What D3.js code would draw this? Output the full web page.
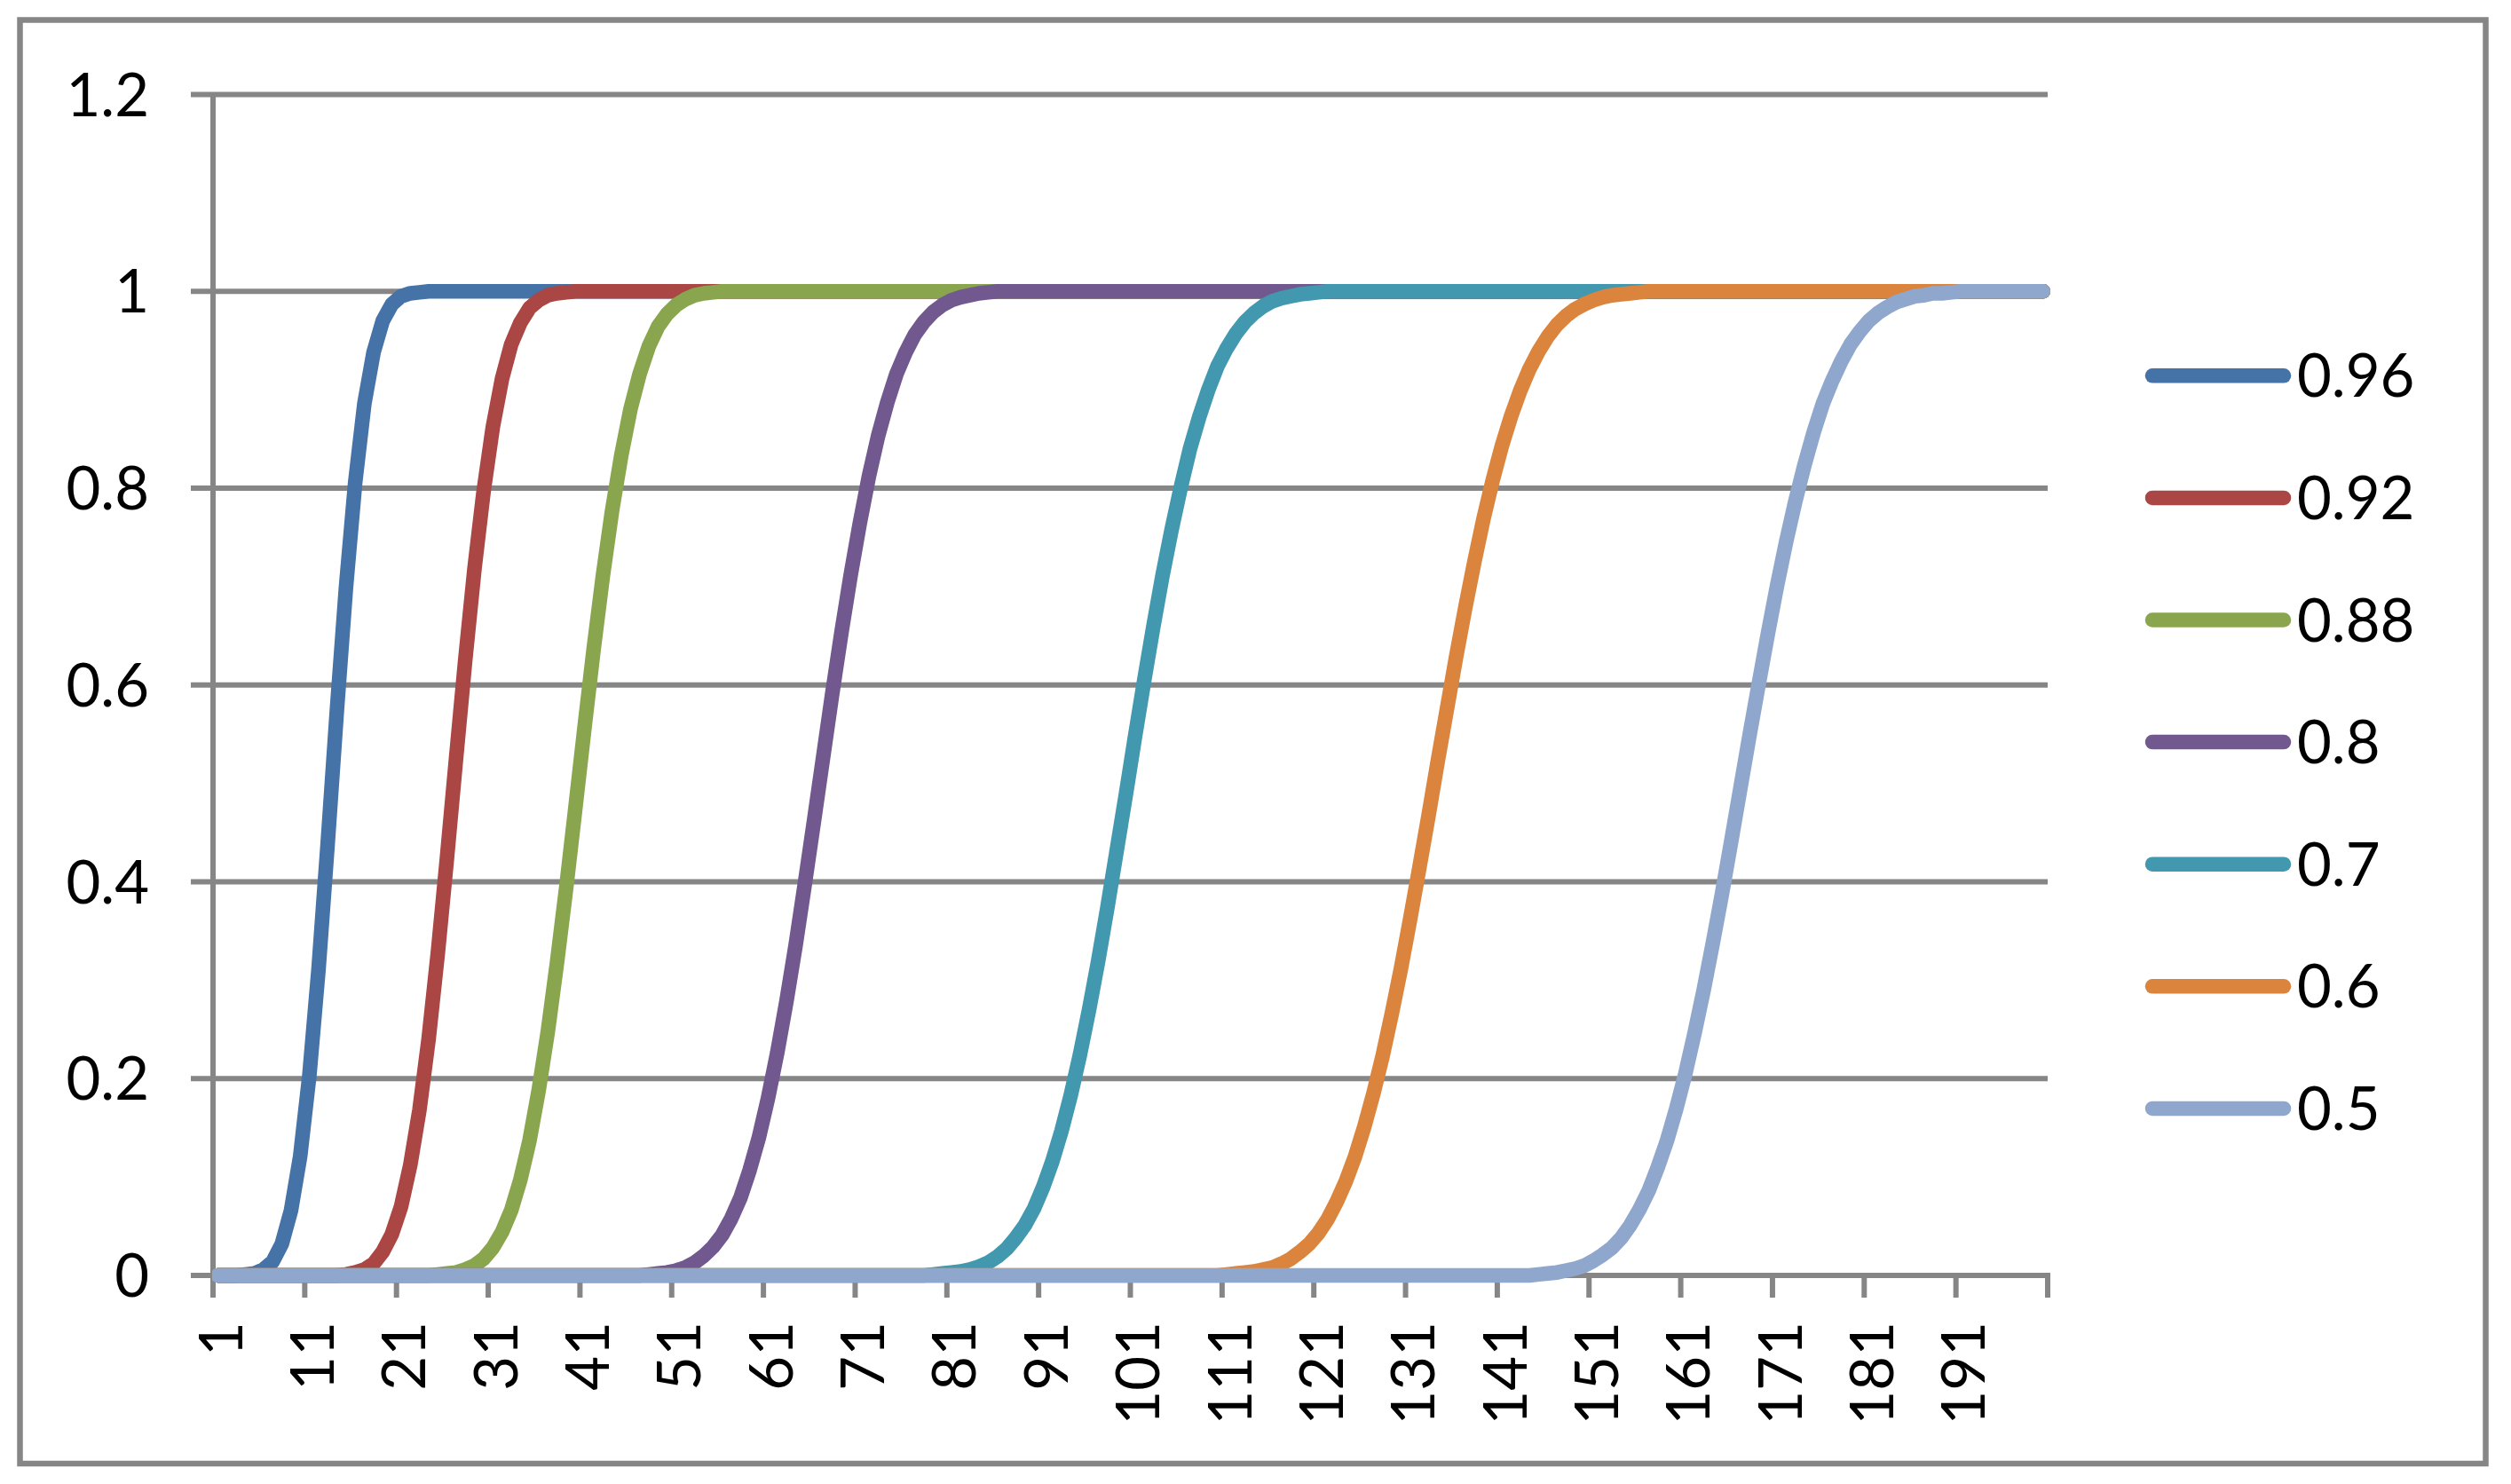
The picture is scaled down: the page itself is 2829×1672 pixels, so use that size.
<!DOCTYPE html>
<html>
<head>
<meta charset="utf-8">
<script src="https://cdn.jsdelivr.net/npm/d3@7/dist/d3.min.js"></script>
<style>
  html, body { margin: 0; padding: 0; background: #ffffff; }
  svg { display: block; }
  text { font-family: Lato, "Open Sans", "Liberation Sans", sans-serif; fill: #000; }
</style>
</head>
<body>
<svg id="chart" width="2829" height="1672"></svg>
<script>
// ---------------- DATA ----------------
const categories = d3.range(1, 201);
const seriesNames = ["0.96", "0.92", "0.88", "0.8", "0.7", "0.6", "0.5"];
const seriesColors = ["#4572A7", "#AA4643", "#89A54E", "#71588F", "#4198AF", "#DB843D", "#8FA7CC"];
const yTicks = [0, 0.2, 0.4, 0.6, 0.8, 1, 1.2];
const yTickLabels = ["0", "0.2", "0.4", "0.6", "0.8", "1", "1.2"];
const xTickCategories = [1, 11, 21, 31, 41, 51, 61, 71, 81, 91, 101, 111, 121, 131, 141, 151, 161, 171, 181, 191];
const xTickLabels = ["1", "11", "21", "31", "41", "51", "61", "71", "81", "91", "101", "111", "121", "131", "141", "151", "161", "171", "181", "191"];

const s096 = [
0,0,0,0.001,0.002,0.006,0.014,0.032,0.066,0.121,
0.203,0.311,0.439,0.574,0.700,0.806,0.886,0.938,0.970,0.987,
0.995,0.998,0.999,1,1,1,1,1,1,1,
1,1,1,1,1,1,1,1,1,1,
1,1,1,1,1,1,1,1,1,1,
1,1,1,1,1,1,1,1,1,1,
1,1,1,1,1,1,1,1,1,1,
1,1,1,1,1,1,1,1,1,1,
1,1,1,1,1,1,1,1,1,1,
1,1,1,1,1,1,1,1,1,1,
1,1,1,1,1,1,1,1,1,1,
1,1,1,1,1,1,1,1,1,1,
1,1,1,1,1,1,1,1,1,1,
1,1,1,1,1,1,1,1,1,1,
1,1,1,1,1,1,1,1,1,1,
1,1,1,1,1,1,1,1,1,1,
1,1,1,1,1,1,1,1,1,1,
1,1,1,1,1,1,1,1,1,1,
1,1,1,1,1,1,1,1,1,1,
1,1,1,1,1,1,1,1,1,1
];
const s092 = [
0,0,0,0,0,0,0,0,0,0,
0,0,0,0,0.001,0.003,0.006,0.012,0.024,0.042,
0.070,0.112,0.168,0.240,0.327,0.424,0.526,0.626,0.718,0.797,
0.862,0.911,0.946,0.968,0.983,0.991,0.996,0.998,0.999,1,
1,1,1,1,1,1,1,1,1,1,
1,1,1,1,1,1,1,1,1,1,
1,1,1,1,1,1,1,1,1,1,
1,1,1,1,1,1,1,1,1,1,
1,1,1,1,1,1,1,1,1,1,
1,1,1,1,1,1,1,1,1,1,
1,1,1,1,1,1,1,1,1,1,
1,1,1,1,1,1,1,1,1,1,
1,1,1,1,1,1,1,1,1,1,
1,1,1,1,1,1,1,1,1,1,
1,1,1,1,1,1,1,1,1,1,
1,1,1,1,1,1,1,1,1,1,
1,1,1,1,1,1,1,1,1,1,
1,1,1,1,1,1,1,1,1,1,
1,1,1,1,1,1,1,1,1,1,
1,1,1,1,1,1,1,1,1,1
];
const s088 = [
0,0,0,0,0,0,0,0,0,0,
0,0,0,0,0,0,0,0,0,0,
0,0,0,0,0.001,0.002,0.003,0.006,0.010,0.017,
0.028,0.044,0.066,0.097,0.137,0.188,0.248,0.318,0.394,0.475,
0.557,0.637,0.711,0.777,0.833,0.880,0.916,0.944,0.964,0.977,
0.986,0.992,0.996,0.998,0.999,1,1,1,1,1,
1,1,1,1,1,1,1,1,1,1,
1,1,1,1,1,1,1,1,1,1,
1,1,1,1,1,1,1,1,1,1,
1,1,1,1,1,1,1,1,1,1,
1,1,1,1,1,1,1,1,1,1,
1,1,1,1,1,1,1,1,1,1,
1,1,1,1,1,1,1,1,1,1,
1,1,1,1,1,1,1,1,1,1,
1,1,1,1,1,1,1,1,1,1,
1,1,1,1,1,1,1,1,1,1,
1,1,1,1,1,1,1,1,1,1,
1,1,1,1,1,1,1,1,1,1,
1,1,1,1,1,1,1,1,1,1,
1,1,1,1,1,1,1,1,1,1
];
const s080 = [
0,0,0,0,0,0,0,0,0,0,
0,0,0,0,0,0,0,0,0,0,
0,0,0,0,0,0,0,0,0,0,
0,0,0,0,0,0,0,0,0,0,
0,0,0,0,0,0,0,0.001,0.002,0.003,
0.005,0.008,0.013,0.020,0.029,0.041,0.058,0.079,0.107,0.140,
0.180,0.226,0.278,0.335,0.397,0.461,0.526,0.591,0.653,0.711,
0.764,0.812,0.853,0.887,0.916,0.938,0.956,0.969,0.979,0.986,
0.991,0.994,0.996,0.998,0.999,1,1,1,1,1,
1,1,1,1,1,1,1,1,1,1,
1,1,1,1,1,1,1,1,1,1,
1,1,1,1,1,1,1,1,1,1,
1,1,1,1,1,1,1,1,1,1,
1,1,1,1,1,1,1,1,1,1,
1,1,1,1,1,1,1,1,1,1,
1,1,1,1,1,1,1,1,1,1,
1,1,1,1,1,1,1,1,1,1,
1,1,1,1,1,1,1,1,1,1,
1,1,1,1,1,1,1,1,1,1,
1,1,1,1,1,1,1,1,1,1
];
const s070 = [
0,0,0,0,0,0,0,0,0,0,
0,0,0,0,0,0,0,0,0,0,
0,0,0,0,0,0,0,0,0,0,
0,0,0,0,0,0,0,0,0,0,
0,0,0,0,0,0,0,0,0,0,
0,0,0,0,0,0,0,0,0,0,
0,0,0,0,0,0,0,0,0,0,
0,0,0,0,0,0,0,0,0.001,0.002,
0.003,0.004,0.006,0.009,0.013,0.019,0.027,0.038,0.051,0.068,
0.090,0.116,0.147,0.183,0.224,0.270,0.320,0.374,0.431,0.488,
0.547,0.604,0.659,0.711,0.758,0.801,0.840,0.872,0.900,0.924,
0.942,0.957,0.969,0.978,0.985,0.990,0.993,0.995,0.997,0.998,
0.999,1,1,1,1,1,1,1,1,1,
1,1,1,1,1,1,1,1,1,1,
1,1,1,1,1,1,1,1,1,1,
1,1,1,1,1,1,1,1,1,1,
1,1,1,1,1,1,1,1,1,1,
1,1,1,1,1,1,1,1,1,1,
1,1,1,1,1,1,1,1,1,1,
1,1,1,1,1,1,1,1,1,1
];
const s060 = [
0,0,0,0,0,0,0,0,0,0,
0,0,0,0,0,0,0,0,0,0,
0,0,0,0,0,0,0,0,0,0,
0,0,0,0,0,0,0,0,0,0,
0,0,0,0,0,0,0,0,0,0,
0,0,0,0,0,0,0,0,0,0,
0,0,0,0,0,0,0,0,0,0,
0,0,0,0,0,0,0,0,0,0,
0,0,0,0,0,0,0,0,0,0,
0,0,0,0,0,0,0,0,0,0,
0,0,0,0,0,0,0,0,0,0,
0.001,0.002,0.003,0.004,0.006,0.008,0.012,0.017,0.024,0.032,
0.043,0.057,0.075,0.096,0.121,0.151,0.185,0.223,0.266,0.312,
0.362,0.414,0.467,0.522,0.575,0.628,0.678,0.725,0.769,0.808,
0.843,0.873,0.899,0.921,0.939,0.954,0.966,0.975,0.982,0.987,
0.991,0.994,0.996,0.997,0.998,0.999,1,1,1,1,
1,1,1,1,1,1,1,1,1,1,
1,1,1,1,1,1,1,1,1,1,
1,1,1,1,1,1,1,1,1,1,
1,1,1,1,1,1,1,1,1,1
];
const s050 = [
0,0,0,0,0,0,0,0,0,0,
0,0,0,0,0,0,0,0,0,0,
0,0,0,0,0,0,0,0,0,0,
0,0,0,0,0,0,0,0,0,0,
0,0,0,0,0,0,0,0,0,0,
0,0,0,0,0,0,0,0,0,0,
0,0,0,0,0,0,0,0,0,0,
0,0,0,0,0,0,0,0,0,0,
0,0,0,0,0,0,0,0,0,0,
0,0,0,0,0,0,0,0,0,0,
0,0,0,0,0,0,0,0,0,0,
0,0,0,0,0,0,0,0,0,0,
0,0,0,0,0,0,0,0,0,0,
0,0,0,0,0,0,0,0,0,0,
0,0,0,0,0.001,0.002,0.003,0.005,0.007,0.010,
0.015,0.021,0.028,0.038,0.051,0.067,0.086,0.110,0.137,0.169,
0.205,0.246,0.290,0.338,0.388,0.441,0.495,0.549,0.601,0.652,
0.701,0.746,0.787,0.824,0.857,0.886,0.909,0.929,0.946,0.959,
0.970,0.978,0.984,0.989,0.992,0.995,0.996,0.998,0.998,0.999,
1,1,1,1,1,1,1,1,1,1
];
const seriesValues = [s096, s092, s088, s080, s070, s060, s050];

// ---------------- CHART ----------------
const svg = d3.select("#chart");
const gray = "#868686";
const plot = { left: 240, right: 2307, top: 106.5, bottom: 1437 };

const x = d3.scalePoint().domain(categories).range([plot.left, plot.right]).padding(0.5);
const step = x.step();
const y = d3.scaleLinear().domain([0, 1.2]).range([plot.bottom, plot.top]);

// outer chart border
svg.append("rect")
  .attr("x", 22.5).attr("y", 22.5)
  .attr("width", 2800.5 - 22.5).attr("height", 1649 - 22.5)
  .attr("fill", "#fff").attr("stroke", gray).attr("stroke-width", 6.5);

// horizontal gridlines (with left tick marks)
svg.append("g").selectAll("line").data(yTicks).join("line")
  .attr("x1", plot.left - 25).attr("x2", plot.right)
  .attr("y1", d => y(d)).attr("y2", d => y(d))
  .attr("stroke", gray).attr("stroke-width", 6);

// y axis line
svg.append("line")
  .attr("x1", plot.left).attr("x2", plot.left)
  .attr("y1", y(1.2)).attr("y2", plot.bottom)
  .attr("stroke", gray).attr("stroke-width", 6);

// x axis ticks at category boundaries
const boundaryCats = xTickCategories.concat([201]);
svg.append("g").selectAll("line").data(boundaryCats).join("line")
  .attr("x1", d => d <= 200 ? x(d) - step / 2 : x(200) + step / 2)
  .attr("x2", d => d <= 200 ? x(d) - step / 2 : x(200) + step / 2)
  .attr("y1", plot.bottom).attr("y2", plot.bottom + 25)
  .attr("stroke", gray).attr("stroke-width", 6);

// x axis line
svg.append("line")
  .attr("x1", plot.left - 3).attr("x2", plot.right + 3)
  .attr("y1", plot.bottom).attr("y2", plot.bottom)
  .attr("stroke", gray).attr("stroke-width", 6);

// y labels
svg.append("g").selectAll("text").data(yTicks).join("text")
  .attr("x", 168).attr("y", d => y(d))
  .attr("dy", "0.36em")
  .attr("text-anchor", "end")
  .attr("font-size", 67)
  .text((d, i) => yTickLabels[i]);

// x labels (rotated)
svg.append("g").selectAll("text").data(xTickCategories).join("text")
  .attr("transform", d => `translate(${x(d)},1489) rotate(-90)`)
  .attr("dy", "0.41em")
  .attr("text-anchor", "end")
  .attr("font-size", 67)
  .text((d, i) => xTickLabels[i]);

// clip for series (left edge flat like the original)
svg.append("defs").append("clipPath").attr("id", "plotclip")
  .append("rect").attr("x", plot.left - 1).attr("y", 0).attr("width", 2330 - plot.left).attr("height", 1672);

const line = d3.line()
  .x((d, i) => x(categories[i]))
  .y(d => y(d));

svg.append("g").attr("clip-path", "url(#plotclip)")
  .selectAll("path").data(seriesValues).join("path")
  .attr("d", d => line(d))
  .attr("fill", "none")
  .attr("stroke", (d, i) => seriesColors[i])
  .attr("stroke-width", 16.5)
  .attr("stroke-linejoin", "round")
  .attr("stroke-linecap", "round");

// legend
const legendY0 = 423.3, legendStep = 137.6;
const lg = svg.append("g").selectAll("g").data(seriesNames).join("g")
  .attr("transform", (d, i) => `translate(0,${legendY0 + i * legendStep})`);
lg.append("line")
  .attr("x1", 2425).attr("x2", 2573).attr("y1", 0).attr("y2", 0)
  .attr("stroke", (d, i) => seriesColors[i])
  .attr("stroke-width", 16.5)
  .attr("stroke-linecap", "round");
lg.append("text")
  .attr("x", 2588).attr("y", 0).attr("dy", "0.36em")
  .attr("font-size", 67)
  .text(d => d);
</script>
</body>
</html>
